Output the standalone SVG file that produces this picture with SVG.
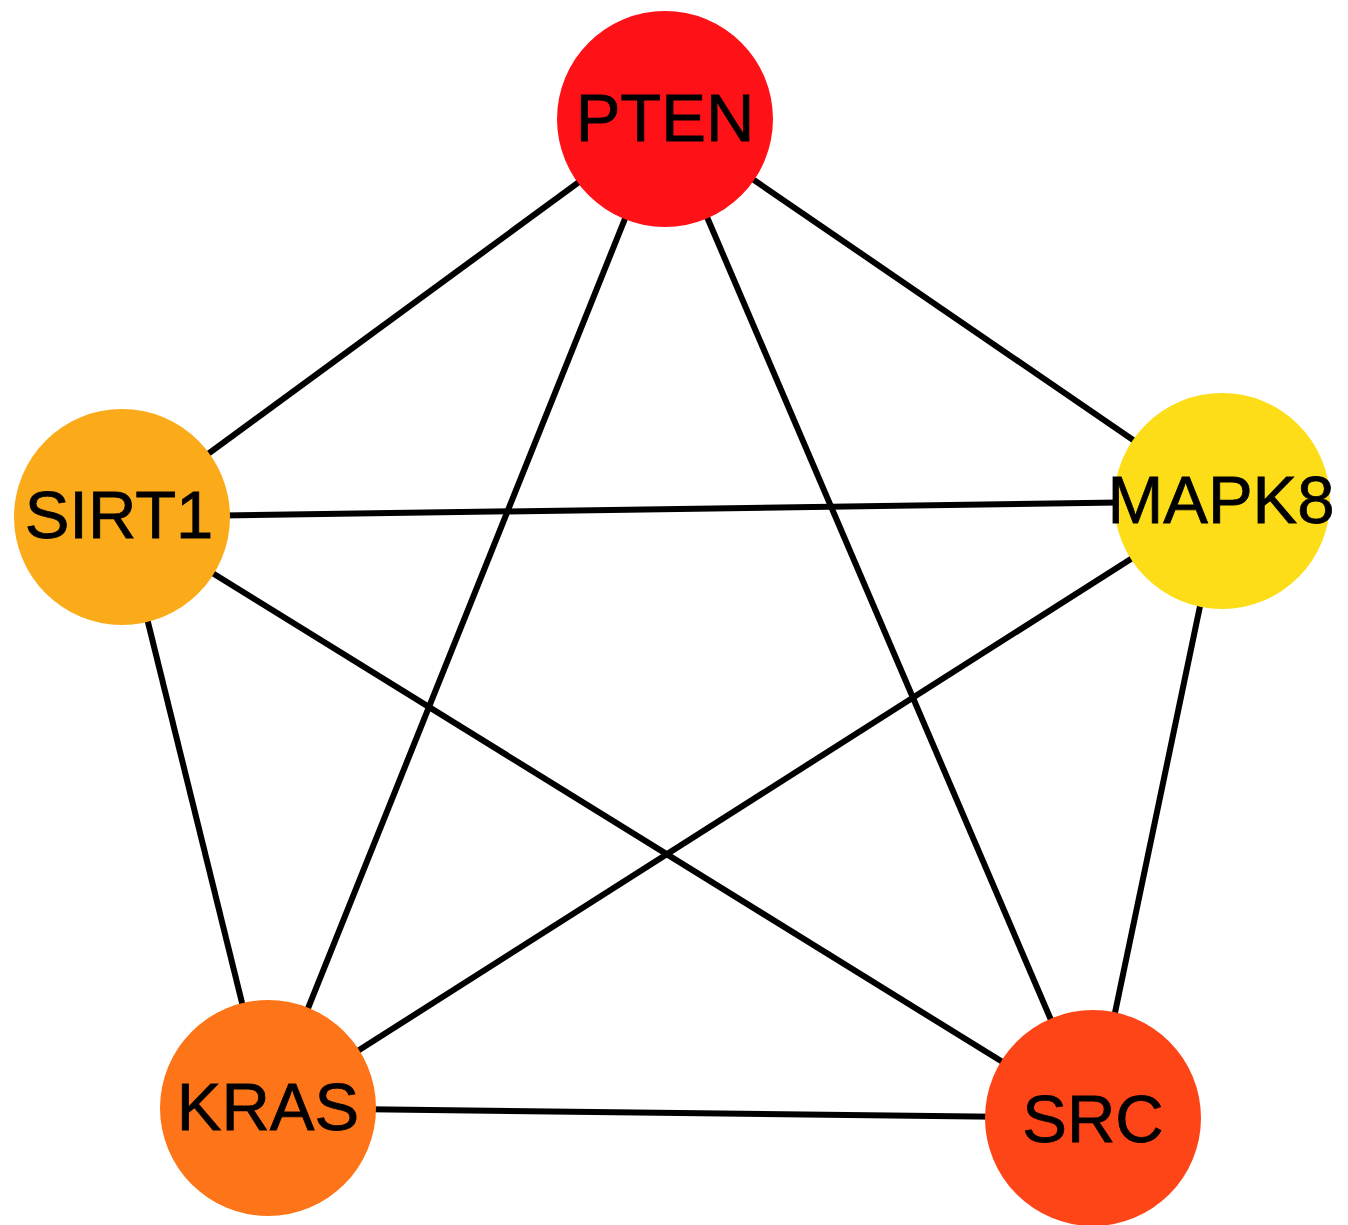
<svg xmlns="http://www.w3.org/2000/svg" width="1348" height="1225" viewBox="0 0 1348 1225">
<style>
.edge{stroke:#000;stroke-width:6;fill:none}
.node text{font-family:"Liberation Sans",Arial,sans-serif;font-size:67px;fill:#000;stroke:#000;stroke-width:0.8;text-anchor:middle}
</style>
<rect width="1348" height="1225" fill="#fff"/>
<g id="edges">
<line class="edge" x1="665" y1="119" x2="122" y2="517"/>
<line class="edge" x1="665" y1="119" x2="1222" y2="501"/>
<line class="edge" x1="665" y1="119" x2="268" y2="1108"/>
<line class="edge" x1="665" y1="119" x2="1093" y2="1118"/>
<line class="edge" x1="122" y1="517" x2="1222" y2="501"/>
<line class="edge" x1="122" y1="517" x2="268" y2="1108"/>
<line class="edge" x1="122" y1="517" x2="1093" y2="1118"/>
<line class="edge" x1="1222" y1="501" x2="268" y2="1108"/>
<line class="edge" x1="1222" y1="501" x2="1093" y2="1118"/>
<line class="edge" x1="268" y1="1108" x2="1093" y2="1118"/>
</g>
<g id="PTEN" class="node"><circle cx="665" cy="119" r="108" fill="#FF1118"/><text x="665" y="141">PTEN</text></g>
<g id="SIRT1" class="node"><circle cx="122" cy="517" r="108" fill="#FBAA19"/><text x="119" y="538">SIRT1</text></g>
<g id="MAPK8" class="node"><circle cx="1222" cy="501" r="108" fill="#FDDC18"/><text x="1221" y="523">MAPK8</text></g>
<g id="KRAS" class="node"><circle cx="268" cy="1108" r="108" fill="#FD7518"/><text x="268" y="1130">KRAS</text></g>
<g id="SRC" class="node"><circle cx="1093" cy="1118" r="108" fill="#FE4517"/><text x="1093" y="1142">SRC</text></g>
</svg>
